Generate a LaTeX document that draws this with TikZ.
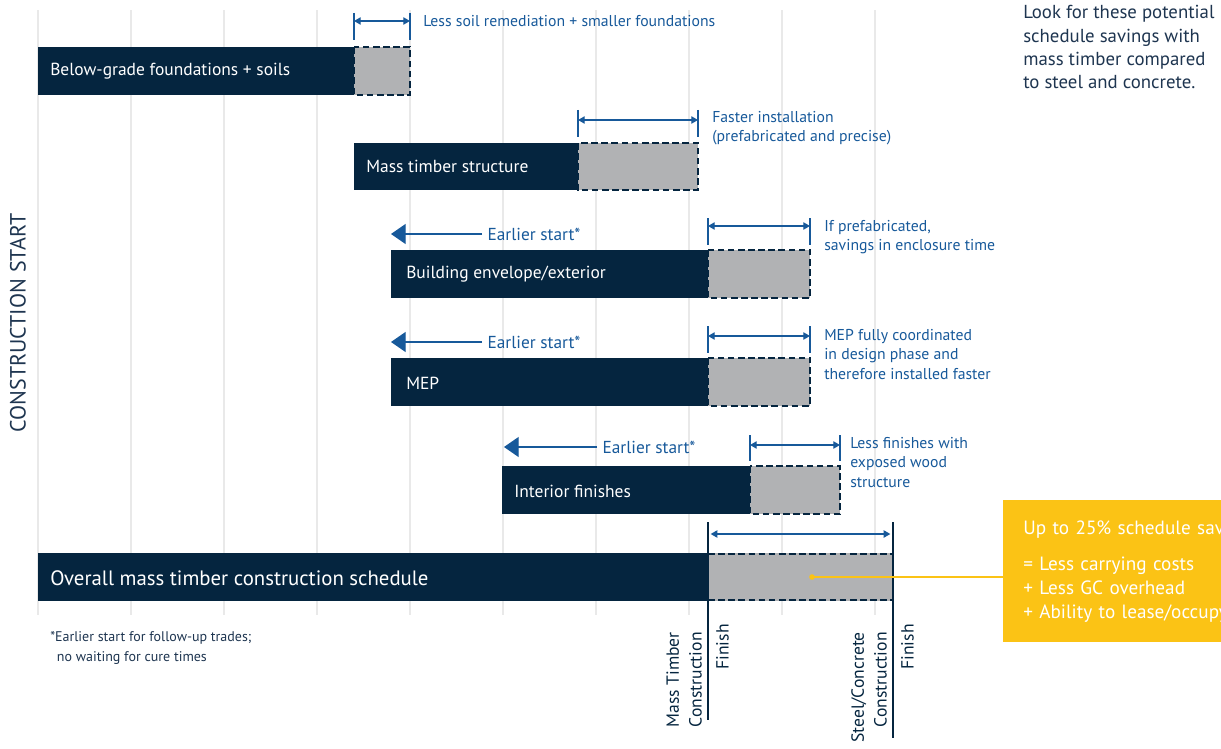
\documentclass[tikz,border=0pt]{standalone}
\usepackage{fontspec}
\setmainfont{PT Sans}
\usetikzlibrary{arrows.meta,positioning}
\definecolor{navy}{HTML}{05253F}
\definecolor{savedgray}{HTML}{B1B2B4}
\definecolor{noteblue}{HTML}{17599A}
\definecolor{gridgray}{HTML}{E9E9E9}
\definecolor{calloutyellow}{HTML}{FBC315}
\definecolor{inkdark}{HTML}{1E3550}

\begin{document}
\begin{tikzpicture}[x=0.75pt, y=-0.75pt,
  grid/.style={gridgray, line width=1.1pt},
  bar/.style={fill=navy},
  saved/.style={fill=savedgray, draw=navy, line width=1.5pt, dash pattern=on 5pt off 2.6pt},
  barlabel/.style={anchor=west, inner sep=0pt, text=white, font=\fontsize{13.1}{15}\selectfont},
  tick/.style={noteblue, line width=0.9pt},
  span/.style={noteblue, line width=0.9pt, {Triangle[length=5pt,width=5.5pt]}-{Triangle[length=5pt,width=5.5pt]}},
  early/.style={noteblue, line width=0.9pt, -{Triangle[length=11pt,width=15pt]}},
  note/.style={anchor=north west, inner sep=0pt, align=left, text=noteblue, font=\fontsize{11.8}{14.6}\selectfont},
  earlylabel/.style={anchor=west, inner sep=4pt, text=noteblue, font=\fontsize{13}{15}\selectfont},
  finishline/.style={navy, line width=2.2pt},
  vlabel/.style={rotate=90, inner sep=0pt, align=right, text=navy, font=\fontsize{13.2}{17}\selectfont}]

\useasboundingbox (0,0) rectangle (1221,749);
\clip (0,0) rectangle (1221,749);

% grid
\foreach \gx in {38,131,...,875}
  \draw[grid] (\gx,10) -- (\gx,615);

\node[rotate=90, text=inkdark, font=\fontsize{16.5}{18}\selectfont] (start) at (18,323) {CONSTRUCTION START};

% foundations
\filldraw[saved] (354,47) rectangle (410,95);
\fill[bar] (38,47) rectangle (354,95);
\node[barlabel] (foundations) at (50,71) {Below-grade foundations + soils};
\coordinate (fA) at (354,21);
\coordinate (fB) at (410,21);
\draw[tick] (fA) ++(0,-8) -- ++(0,27);
\draw[tick] (fB) ++(0,-8) -- ++(0,27);
\draw[span] (fA) -- (fB);
\node[note, anchor=west] (fNote) at (423,21) {Less soil remediation + smaller foundations};

% structure
\filldraw[saved] (578,143) rectangle (698,190);
\fill[bar] (354,143) rectangle (578,190);
\node[barlabel] (structure) at (366,166) {Mass timber structure};
\coordinate (sA) at (578,120);
\coordinate (sB) at (698,120);
\draw[tick] (sA) ++(0,-10) -- ++(0,27);
\draw[tick] (sB) ++(0,-10) -- ++(0,27);
\draw[span] (sA) -- (sB);
\node[note] (sNote) at (712,111) {Faster installation\\(prefabricated and precise)};

% envelope
\filldraw[saved] (708,250) rectangle (810,298);
\fill[bar] (391,250) rectangle (708,298);
\node[barlabel] (envelope) at (406,274) {Building envelope/exterior};
\coordinate (eA) at (708,226);
\coordinate (eB) at (810,226);
\draw[tick] (eA) ++(0,-8) -- ++(0,27);
\draw[tick] (eB) ++(0,-8) -- ++(0,27);
\draw[span] (eA) -- (eB);
\node[note] (eNote) at (824,220) {If prefabricated,\\savings in enclosure time};
\node[earlylabel] (eEarly) at (482,234) {Earlier start*};
\coordinate (eTip) at (391,234);
\draw[early] (eEarly) -- (eTip);

% mep
\filldraw[saved] (708,358) rectangle (810,406);
\fill[bar] (391,358) rectangle (708,406);
\node[barlabel] (mep) at (406,383) {MEP};
\coordinate (mA) at (708,336);
\coordinate (mB) at (810,336);
\draw[tick] (mA) ++(0,-10) -- ++(0,27);
\draw[tick] (mB) ++(0,-10) -- ++(0,27);
\draw[span] (mA) -- (mB);
\node[note] (mNote) at (824,329) {MEP fully coordinated\\in design phase and\\therefore installed faster};
\node[earlylabel] (mEarly) at (482,342) {Earlier start*};
\coordinate (mTip) at (391,342);
\draw[early] (mEarly) -- (mTip);

% interior
\filldraw[saved] (750,466) rectangle (840,514);
\fill[bar] (502,466) rectangle (750,514);
\node[barlabel] (interior) at (514,491) {Interior finishes};
\coordinate (iA) at (750,445);
\coordinate (iB) at (840,445);
\draw[tick] (iA) ++(0,-10) -- ++(0,26);
\draw[tick] (iB) ++(0,-10) -- ++(0,26);
\draw[span] (iA) -- (iB);
\node[note] (iNote) at (850,437) {Less finishes with\\exposed wood\\structure};
\node[earlylabel] (iEarly) at (597,447) {Earlier start*};
\coordinate (iTip) at (504,447);
\draw[early] (iEarly) -- (iTip);

% overall schedule
\fill[savedgray] (708,553) rectangle (893,601);
\draw[saved] (708,554) -- (893,554) (708,600) -- (893,600);
\fill[bar] (38,553) rectangle (708,601);
\node[barlabel, font=\fontsize{15.6}{18}\selectfont] (overall) at (50,578) {Overall mass timber construction schedule};
\coordinate (mtEnd) at (708,522);
\coordinate (scEnd) at (893,522);
\draw[finishline] (mtEnd) -- ++(0,198);
\draw[finishline] (scEnd) -- ++(0,216);
\draw[span] ([xshift=2pt,yshift=-9pt]mtEnd) -- ([xshift=-2pt,yshift=-9pt]scEnd);

\node[vlabel, anchor=south east] (mtLabel) at (702,632) {Mass Timber\\Construction};
\node[vlabel, anchor=north east] (mtFinish) at (716,624) {Finish};
\node[vlabel, anchor=south east] (scLabel) at (887,632) {Steel/Concrete\\Construction};
\node[vlabel, anchor=north east] (scFinish) at (901,624) {Finish};

% callout
\node[anchor=north west, fill=calloutyellow, text=white, align=left, text width=260pt,
      minimum height=106.5pt, inner xsep=15pt, inner ysep=0pt,
      font=\fontsize{14.4}{18}\selectfont] (savings) at (1003,500)
  {Up to 25\% schedule savings\\[9pt]= Less carrying costs\\+ Less GC overhead\\+ Ability to lease/occupy sooner};
\fill[calloutyellow] (812,577) circle (2.8) coordinate (dot);
\draw[calloutyellow, line width=1.1pt] (dot) -- (dot -| savings.west);

% notes
\node[anchor=north west, inner sep=0pt, align=left, text=inkdark, font=\fontsize{10.5}{15}\selectfont] (footnote) at (50,631)
  {*Earlier start for follow-up trades;\\\hspace{5pt}no waiting for cure times};
\node[anchor=north west, inner sep=0pt, align=left, text=inkdark, font=\fontsize{14.1}{17.6}\selectfont] (intro) at (1023,5)
  {Look for these potential\\schedule savings with\\mass timber compared\\to steel and concrete.};
\end{tikzpicture}
\end{document}
